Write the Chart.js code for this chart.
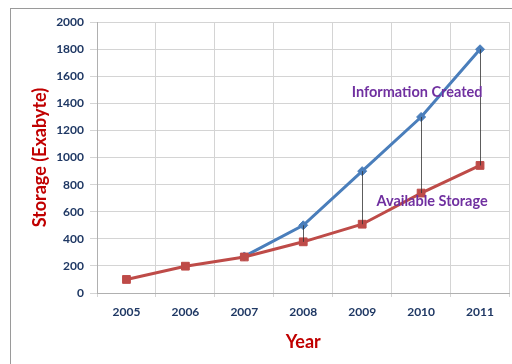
<!DOCTYPE html>
<html>
<head>
<meta charset="utf-8">
<script src="https://cdn.jsdelivr.net/npm/chart.js@4"></script>
<style>
  html, body { margin: 0; padding: 0; background: #fff; }
  body { width: 512px; height: 364px; overflow: hidden; position: relative; }
  #frame { position: absolute; left: 10px; top: 8px; width: 520px; height: 380px; border-left: 1px solid #9a9a9a; border-top: 1px solid #9a9a9a; }
  #wrap { position: absolute; left: 11px; top: 9px; width: 505px; height: 355px; }
</style>
</head>
<body>
<div id="frame"></div>
<div id="wrap"><canvas id="c" width="505" height="355"></canvas></div>
<script>
const years = ['2005', '2006', '2007', '2008', '2009', '2010', '2011'];
const informationCreated = [null, null, 270, 500, 900, 1300, 1800];
const availableStorage = [100, 198, 266, 378, 508, 738, 942];
const yTicks = [0, 200, 400, 600, 800, 1000, 1200, 1400, 1600, 1800, 2000];
const seriesLabels = ['Information Created', 'Available Storage'];
const labelAnchors = [{ index: 5, value: 1480 }, { index: 5, value: 680 }];

const FONT = 'Lato, "Open Sans", sans-serif';

const extras = {
  id: 'extras',
  afterDatasetsDraw(chart) {
    const { ctx, scales: { x, y } } = chart;
    ctx.save();
    ctx.strokeStyle = '#333';
    ctx.lineWidth = 0.8;
    for (let i = 3; i < years.length; i++) {
      if (informationCreated[i] == null) continue;
      const px = Math.round(x.getPixelForValue(i)) + 0.5;
      ctx.beginPath();
      ctx.moveTo(px, y.getPixelForValue(informationCreated[i]));
      ctx.lineTo(px, y.getPixelForValue(availableStorage[i]));
      ctx.stroke();
    }
    ctx.restore();
  },
  afterDraw(chart) {
    const { ctx, scales: { x, y } } = chart;
    ctx.save();
    ctx.fillStyle = '#7030A0';
    ctx.font = 'bold 14.5px ' + FONT;
    ctx.textAlign = 'center';
    ctx.textBaseline = 'middle';
    ctx.fillText(seriesLabels[0], x.getPixelForValue(labelAnchors[0].index) - 4, y.getPixelForValue(labelAnchors[0].value));
    ctx.fillText(seriesLabels[1], x.getPixelForValue(labelAnchors[1].index) + 11, y.getPixelForValue(labelAnchors[1].value));
    ctx.restore();
  }
};

new Chart(document.getElementById('c'), {
  type: 'line',
  data: {
    labels: years,
    datasets: [
      {
        label: seriesLabels[0],
        data: informationCreated,
        borderColor: '#4A7EBB',
        backgroundColor: '#4A7EBB',
        borderWidth: 3,
        pointStyle: 'rectRot',
        pointRadius: 4.5,
        pointBorderWidth: 1,
        spanGaps: false,
        order: 2
      },
      {
        label: seriesLabels[1],
        data: availableStorage,
        borderColor: '#BE4B48',
        backgroundColor: '#BE4B48',
        borderWidth: 3,
        pointStyle: 'rect',
        pointRadius: 5.5,
        pointBorderWidth: 1,
        order: 1
      }
    ]
  },
  options: {
    responsive: false,
    animation: false,
    devicePixelRatio: 1,
    layout: { padding: { top: 13, right: 3, left: 0, bottom: 0 } },
    plugins: { legend: { display: false }, tooltip: { enabled: false } },
    scales: {
      x: {
        offset: true,
        afterFit(s) { s.height = 71; },
        grid: { color: '#d4d4d4', tickLength: 4, offset: true },
        border: { color: '#b0b0b0' },
        ticks: { color: '#1F3864', font: { family: FONT, weight: 'bold', size: 12 }, padding: 8 },
        title: { display: true, text: 'Year', color: '#C00000', font: { family: FONT, weight: 'bold', size: 18 }, padding: { top: 0, bottom: 11 } }
      },
      y: {
        min: 0, max: 2000,
        afterFit(s) { s.width = 86; },
        afterBuildTicks(s) { s.ticks = yTicks.map(v => ({ value: v })); },
        grid: { color: '#d4d4d4', tickLength: 7 },
        border: { color: '#b0b0b0' },
        ticks: { color: '#1F3864', font: { family: FONT, weight: 'bold', size: 12 }, padding: 6, callback: v => String(v) },
        title: { display: true, text: 'Storage (Exabyte)', color: '#C00000', font: { family: FONT, weight: 'bold', size: 18 }, padding: { top: 18, bottom: 0 } }
      }
    }
  },
  plugins: [extras]
});
</script>
</body>
</html>
